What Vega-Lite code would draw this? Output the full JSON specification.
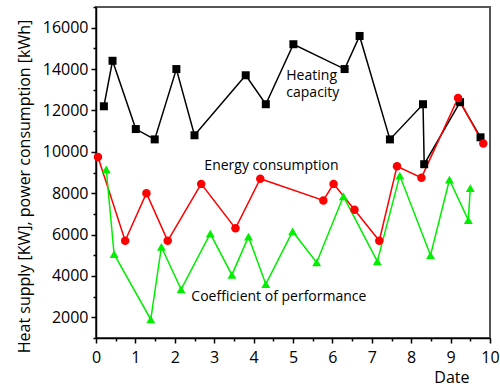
{
  "$schema": "https://vega.github.io/schema/vega-lite/v6.json",
  "width": 394,
  "height": 331,
  "autosize": "none",
  "padding": {"left": 96, "top": 7, "right": 10, "bottom": 49},
  "background": "white",
  "config": {
    "font": "Open Sans",
    "view": {"stroke": "#555555", "strokeWidth": 2}
  },
  "datasets": {
    "pts": [
      {"s": "Heating", "x": 0.20, "y": 12200},
      {"s": "Heating", "x": 0.42, "y": 14400},
      {"s": "Heating", "x": 1.01, "y": 11100},
      {"s": "Heating", "x": 1.49, "y": 10600},
      {"s": "Heating", "x": 2.04, "y": 14000},
      {"s": "Heating", "x": 2.50, "y": 10800},
      {"s": "Heating", "x": 3.80, "y": 13700},
      {"s": "Heating", "x": 4.31, "y": 12300},
      {"s": "Heating", "x": 5.01, "y": 15200},
      {"s": "Heating", "x": 6.31, "y": 14000},
      {"s": "Heating", "x": 6.69, "y": 15600},
      {"s": "Heating", "x": 7.46, "y": 10600},
      {"s": "Heating", "x": 8.30, "y": 12300},
      {"s": "Heating", "x": 8.33, "y": 9400},
      {"s": "Heating", "x": 9.24, "y": 12400},
      {"s": "Heating", "x": 9.76, "y": 10700},
      {"s": "Energy", "x": 0.05, "y": 9750},
      {"s": "Energy", "x": 0.74, "y": 5700},
      {"s": "Energy", "x": 1.28, "y": 8000},
      {"s": "Energy", "x": 1.82, "y": 5700},
      {"s": "Energy", "x": 2.67, "y": 8450},
      {"s": "Energy", "x": 3.54, "y": 6300},
      {"s": "Energy", "x": 4.17, "y": 8700},
      {"s": "Energy", "x": 5.77, "y": 7650},
      {"s": "Energy", "x": 6.03, "y": 8450},
      {"s": "Energy", "x": 6.56, "y": 7200},
      {"s": "Energy", "x": 7.19, "y": 5700},
      {"s": "Energy", "x": 7.64, "y": 9300},
      {"s": "Energy", "x": 8.26, "y": 8750},
      {"s": "Energy", "x": 9.19, "y": 12600},
      {"s": "Energy", "x": 9.83, "y": 10400},
      {"s": "COP", "x": 0.26, "y": 9150},
      {"s": "COP", "x": 0.46, "y": 5050},
      {"s": "COP", "x": 1.39, "y": 1900},
      {"s": "COP", "x": 1.66, "y": 5400},
      {"s": "COP", "x": 2.16, "y": 3350},
      {"s": "COP", "x": 2.90, "y": 6050},
      {"s": "COP", "x": 3.45, "y": 4050},
      {"s": "COP", "x": 3.87, "y": 5900},
      {"s": "COP", "x": 4.31, "y": 3600},
      {"s": "COP", "x": 4.99, "y": 6150},
      {"s": "COP", "x": 5.60, "y": 4650},
      {"s": "COP", "x": 6.28, "y": 7850},
      {"s": "COP", "x": 7.14, "y": 4700},
      {"s": "COP", "x": 7.71, "y": 8850},
      {"s": "COP", "x": 8.49, "y": 5000},
      {"s": "COP", "x": 8.97, "y": 8650},
      {"s": "COP", "x": 9.45, "y": 6700},
      {"s": "COP", "x": 9.50, "y": 8250}
    ],
    "labels": [
      {"t": "Heating", "x": 4.83, "y": 13660},
      {"t": "capacity", "x": 4.83, "y": 12825},
      {"t": "Energy consumption", "x": 2.75, "y": 9330},
      {"t": "Coefficient of performance", "x": 2.42, "y": 3000}
    ]
  },
  "layer": [
    {
      "data": {"name": "pts"},
      "mark": {"type": "line", "strokeWidth": 1.5},
      "encoding": {
        "x": {"field": "x", "type": "quantitative"},
        "y": {"field": "y", "type": "quantitative"},
        "color": {"field": "s", "type": "nominal", "legend": null,
          "scale": {"domain": ["Heating", "Energy", "COP"], "range": ["#000000", "#ff0000", "#00ee00"]}}
      }
    },
    {
      "data": {"name": "pts"},
      "mark": {"type": "point", "filled": true, "opacity": 1},
      "encoding": {
        "x": {"field": "x", "type": "quantitative"},
        "y": {"field": "y", "type": "quantitative"},
        "color": {"field": "s", "type": "nominal", "legend": null,
          "scale": {"domain": ["Heating", "Energy", "COP"], "range": ["#000000", "#ff0000", "#00ee00"]}},
        "shape": {"field": "s", "type": "nominal", "legend": null,
          "scale": {"domain": ["Heating", "Energy", "COP"], "range": ["square", "circle", "triangle-up"]}},
        "size": {"field": "s", "type": "nominal", "legend": null,
          "scale": {"domain": ["Heating", "Energy", "COP"], "range": [64, 80, 115]}}
      }
    },
    {
      "data": {"name": "labels"},
      "mark": {"type": "text", "align": "left", "baseline": "middle", "fontSize": 14, "color": "black"},
      "encoding": {
        "x": {"field": "x", "type": "quantitative"},
        "y": {"field": "y", "type": "quantitative"},
        "text": {"field": "t"}
      }
    }
  ],
  "resolve": {"scale": {"x": "shared", "y": "shared"}},
  "encoding": {
    "x": {
      "field": "x", "type": "quantitative",
      "scale": {"domain": [0, 10], "nice": false, "zero": false},
      "axis": {
        "title": "Date", "titleFontSize": 16, "titleFontWeight": "normal", "titleColor": "black",
        "titleAlign": "right", "titleBaseline": "alphabetic", "titleAnchor": "end",
        "titleX": 373, "titleY": 44,
        "values": [0,0.5,1,1.5,2,2.5,3,3.5,4,4.5,5,5.5,6,6.5,7,7.5,8,8.5,9,9.5,10],
        "labelExpr": "datum.value % 1 == 0 ? format(datum.value, 'd') : ''",
        "labelFontSize": 16, "labelColor": "black", "labelPadding": 6, "labelFlush": false,
        "grid": false, "domainColor": "black", "domainWidth": 1.5,
        "tickColor": "black", "tickWidth": 1.5,
        "tickSize": {"condition": {"test": "datum.value % 1 == 0", "value": 5}, "value": 3}
      }
    },
    "y": {
      "field": "y", "type": "quantitative",
      "scale": {"domain": [1000, 17000], "nice": false, "zero": false},
      "axis": {
        "title": "Heat supply [KW], power consumption [kWh]", "titleFontSize": 16, "titleFontWeight": "normal", "titleColor": "black",
        "titleAngle": -90, "titleAlign": "center", "titleBaseline": "middle",
        "titleX": -72, "titleY": 179,
        "values": [1000, 2000, 3000, 4000, 5000, 6000, 7000, 8000, 9000, 10000, 11000, 12000, 13000, 14000, 15000, 16000, 17000],
        "labelExpr": "datum.value % 2000 == 0 ? format(datum.value, 'd') : ''",
        "labelFontSize": 16, "labelColor": "black", "labelPadding": 3, "labelFlush": false,
        "grid": false, "domainColor": "black", "domainWidth": 1.5,
        "tickColor": "black", "tickWidth": 1.5,
        "tickSize": {"condition": {"test": "datum.value % 2000 == 0", "value": 5}, "value": 3}
      }
    }
  }
}
